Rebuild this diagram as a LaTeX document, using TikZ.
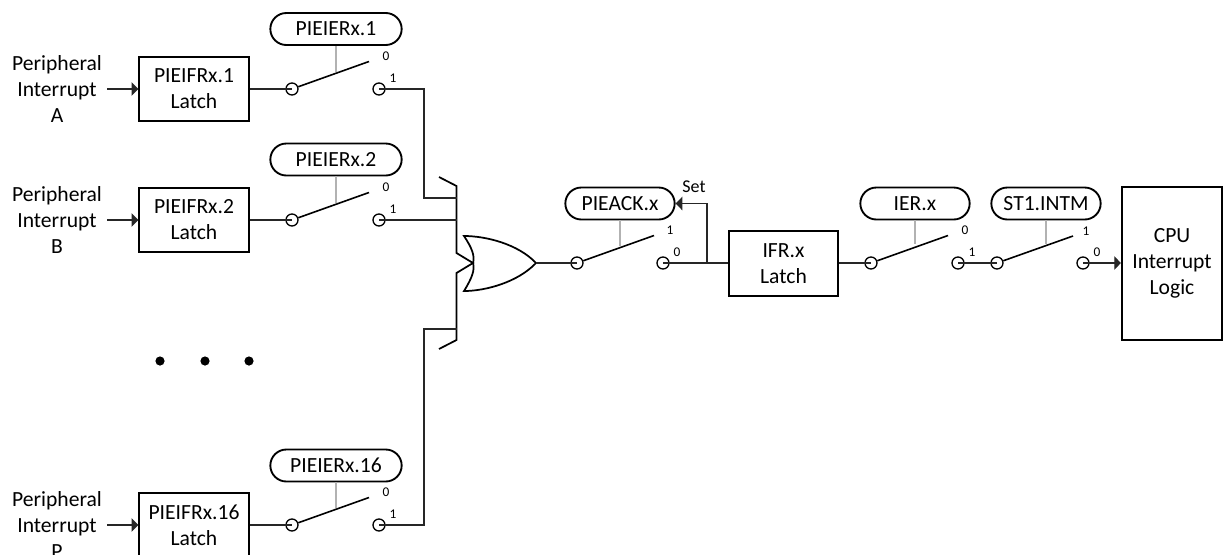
\documentclass[tikz,border=0pt]{standalone}
\usepackage{fontspec}
\setmainfont{Carlito}
\usetikzlibrary{arrows.meta,shapes.misc}
\tikzset{
  lbl/.style={inner sep=0pt,font=\fontsize{16.2}{19.8}\selectfont,align=center},
  blk/.style={draw=black,line width=1.6pt,inner sep=0pt,font=\fontsize{16.2}{19.5}\selectfont,align=center},
  pill/.style={draw=black,line width=1.4pt,rounded rectangle,inner sep=0pt,minimum height=24pt,font=\fontsize{16.2}{18}\selectfont},
  term/.style={circle,draw=black,line width=1pt,minimum size=9pt,inner sep=0pt},
  tiny/.style={inner sep=0pt,font=\fontsize{10}{11}\selectfont},
  wire/.style={draw=black!85,line width=0.9pt},
  blade/.style={draw=black,line width=1.2pt},
  lever/.style={draw=black!30,line width=1pt},
  bus/.style={draw=black,line width=1.3pt},
  into/.style={wire,-{Triangle[length=5pt,width=10pt]}},
}
% #1 prefix, #2 left terminal x, #3 right terminal x, #4 y, #5 upper label, #6 lower label
\newcommand{\swtch}[6]{%
  \node[term] (#1L) at (#2,#4) {};
  \node[term] (#1R) at (#3,#4) {};
  \coordinate (#1T) at (#2+77,#4-27.5);
  \draw[blade] (#1L) -- (#1T);
  \node[tiny] (#1u) at (#3+7,#4-33) {#5};
  \node[tiny] (#1d) at (#3+14,#4-11) {#6};
}
\begin{document}
\begin{tikzpicture}[x=0.75pt,y=-0.75pt]
\useasboundingbox (0,0) rectangle (1223,554);
\clip (0,0) rectangle (1223,554);

% input rows
\foreach \n/\lab/\y/\py/\num in {a/A/89/29/1,b/B/220/159.5/2,p/P/525/465.5/16}{
  \node[lbl] (in\n) at (57,\y) {Peripheral\\Interrupt\\\lab};
  \node[blk,minimum width=82pt,minimum height=48.5pt] (box\n) at (194,\y) {PIEIFRx.\num\\Latch};
  \node[pill,minimum width=98.5pt] (pill\n) at (336,\py) {PIEIERx.\num};
  \swtch{s\n}{292}{379}{\y}{0}{1}
  \coordinate (lev\n) at (336,\y-17);
  \draw[into] (107,\y) -- (box\n.west);
  \draw[wire] (box\n.east) -- (s\n L.center);
  \draw[lever] (pill\n.south) -- (lev\n);
}

% dots
\fill (160,361) circle[radius=4.6];
\fill (205,361) circle[radius=4.6];
\fill (249,361) circle[radius=4.6];

% bus into the OR gate
\coordinate (ba) at (439,177);
\coordinate (bb) at (456.5,186);
\coordinate (bc) at (456.5,253);
\coordinate (bd) at (473,263);
\coordinate (be) at (456.5,273);
\coordinate (bf) at (456.5,340);
\coordinate (bg) at (439,349);
\draw[bus] (ba) -- (bb) -- (bc) -- (bd) -- (be) -- (bf) -- (bg);

\coordinate (ja) at (456.5,198);
\coordinate (jb) at (456.5,220);
\coordinate (jp) at (456.5,329);
\draw[wire] (saR.center) -| (424,198) -- (ja);
\draw[wire] (sbR.center) -- (jb);
\draw[wire] (spR.center) -| (424,329) -- (jp);

% OR gate
\coordinate (orout) at (536,263);
\draw[bus,line join=miter] (464,236) .. controls (486,236) and (518,244) .. (orout)
  .. controls (518,282) and (486,291) .. (464,291)
  .. controls (472,278) and (475,270) .. (bd)
  .. controls (475,256) and (472,248) .. (464,236) -- cycle;

% PIEACK
\swtch{sk}{577}{663}{263}{1}{0}
\node[pill,minimum width=82pt] (pk) at (620,203.5) {PIEACK.x};
\coordinate (levk) at (620,246);
\draw[lever] (pk.south) -- (levk);
\draw[wire] (orout) -- (skL.center);

% IFR
\node[blk,minimum width=81.5pt,minimum height=48.5pt] (ifr) at (783.5,263.5) {IFR.x\\Latch};
\coordinate (jset) at (707,263);
\draw[wire] (skR.center) -- (ifr.west |- jset);
\draw[into] (jset) |- (pk.east);
\node[lbl,font=\fontsize{13.5}{15}\selectfont] (set) at (694,187) {Set};

% IER
\swtch{si}{871}{958}{263}{0}{1}
\node[pill,minimum width=82pt] (pi) at (915,203.5) {IER.x};
\coordinate (levi) at (915,244);
\draw[lever] (pi.south) -- (levi);
\draw[wire] (ifr.east |- jset) -- (siL.center);

% ST1
\node[term] (stL) at (997,263) {};
\node[term] (stR) at (1083,263) {};
\coordinate (stT) at (1073,236);
\draw[blade] (stL) -- (stT);
\node[tiny] (stu) at (1086,231) {1};
\node[tiny] (std) at (1097,252) {0};
\node[pill,minimum width=82pt] (pst) at (1046,203.5) {ST1.INTM};
\coordinate (levs) at (1046,244);
\draw[lever] (pst.south) -- (levs);
\draw[wire] (siR.center) -- (stL.center);

% CPU
\node[blk,minimum width=75pt,minimum height=114.5pt] (cpu) at (1172,263.5) {CPU\\Interrupt\\Logic};
\draw[into] (stR.center) -- (stR.center -| cpu.west);
\end{tikzpicture}
\end{document}
